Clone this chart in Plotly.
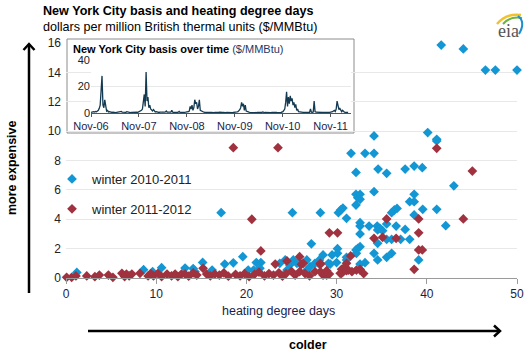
import plotly.graph_objects as go
import pandas as pd

# ---------------- data ----------------
blue_hdd = [1.2, 8.6, 9.6, 10.6, 13.2, 14.1, 14.3, 15.15, 16.2, 17.2, 17.6, 18.55, 19.6, 20.2, 20.8,
            21.1, 21.6, 21.5, 23.7, 24.3, 24.5, 24.8, 25.1, 25.2, 25.6, 25.9, 26.7, 26.7, 27.05, 27.2,
            27.6, 28.0, 28.1, 28.2, 28.5, 29.1, 29.3, 29.5, 30.0, 30.1, 30.1, 30.2, 30.45, 30.7, 30.75,
            31.1, 31.1, 31.1, 31.6, 32.15, 32.15, 32.35, 32.6, 32.6, 32.15, 32.6, 32.6, 32.6, 32.6, 32.35,
            32.15, 32.2, 32.6, 33.15, 33.6, 33.15, 34.15, 34.15, 34.15, 34.15, 34.5, 34.55, 34.8, 35.1,
            34.55, 34.55, 34.6, 35.55, 35.55, 35.55, 35.55, 36.1, 36.1, 36.1, 36.4, 36.7, 36.6, 37.1,
            37.6, 37.6, 38.1, 38.6, 38.6, 38.6, 38.6, 38.1, 39.1, 39.5, 39.55, 40.1, 41.1, 41.1, 41.1,
            41.6, 42.1, 43.0, 44.05, 46.5, 47.6, 50.0]
blue_basis = [0.38, 0.57, 0.43, 0.7, 0.68, 0.64, 0.43, 1.06, 0.54, 4.45, 0.95, 1.03, 1.45, 0.54, 0.54,
              1.05, 1.05, 0.66, 1.0, 1.23, 0.54, 0.88, 4.45, 1.23, 1.0, 1.0, 1.23, 0.54, 0.77, 2.33,
              1.0, 1.0, 1.23, 4.45, 1.57, 1.0, 0.95, 1.57, 1.05, 2.0, 1.68, 4.45, 4.63, 4.76, 0.43,
              4.06, 1.23, 1.41, 8.49, 7.19, 5.70, 5.47, 5.70, 5.36, 4.97, 3.77, 3.54, 3.0, 2.13, 2.02,
              1.91, 1.68, 0.95, 8.49, 3.54, 1.04, 8.49, 9.67, 5.88, 1.68, 3.54, 3.27, 3.38, 3.22,
              2.36, 1.23, 7.42, 7.13, 3.68, 2.63, 1.41, 2.63, 1.68, 4.45, 4.63, 4.74, 3.54, 2.63,
              7.42, 3.31, 5.2, 5.2, 5.7, 7.62, 4.29, 2.63, 1.23, 7.51, 4.68, 9.9, 9.44, 9.33, 4.68,
              15.86, 3.56, 6.28, 15.6, 14.16, 14.16, 14.16]

red_hdd = [0.07, 0.63, 1.1, 2.3, 3.2, 3.7, 4.7, 5.2, 6.2, 6.5, 6.7, 7.0, 7.3, 8.2, 9.1, 9.4, 9.7,
           10.2, 10.6, 11.2, 11.7, 12.1, 12.4, 12.8, 13.2, 13.6, 14.1, 14.5, 15.2, 15.6, 16.0, 16.5,
           17.0, 17.5, 18.0, 18.55, 18.8, 19.3, 19.8, 20.3, 20.6, 20.9, 21.4, 21.6, 22.0, 22.5, 23.0,
           23.2, 23.5, 23.6, 24.0, 24.5, 24.4, 25.0, 25.4, 25.9, 25.9, 26.1, 26.3, 26.5, 27.0, 27.6,
           28.2, 28.2, 28.2, 28.5, 28.7, 28.9, 28.9, 29.2, 29.2, 30.1, 30.4, 30.55, 30.55, 30.75,
           31.1, 31.1, 31.3, 31.56, 31.7, 32.2, 32.6, 32.6, 33.0, 34.15, 35.1, 35.55, 36.6, 38.6,
           39.1, 39.1, 39.1, 39.5, 41.1, 44.05, 45.05]
red_basis = [0.05, 0.05, 0.14, 0.14, 0.09, 0.2, 0.2, 0.05, 0.32, 0.1, 0.27, 0.15, 0.27, 0.32, 0.14, 0.3, 0.14,
             0.32, 0.1, 0.27, 0.15, 0.27, 0.1, 0.27, 0.27, 0.12, 0.35, 0.2, 0.66, 0.27, 0.15, 0.27,
             0.2, 0.35, 0.12, 8.87, 0.25, 0.15, 0.3, 0.1, 4.0, 0.25, 0.4, 1.84, 0.15, 0.3, 0.2,
             0.95, 8.87, 0.35, 0.12, 1.16, 0.3, 0.45, 0.2, 0.43, 1.45, 0.93, 1.0, 0.3, 0.15, 0.43,
             0.43, 0.93, 1.0, 0.2, 0.32, 0.5, 0.2, 3.08, 0.27, 3.08, 0.32, 0.59, 0.32, 0.66,
             0.5, 1.0, 0.54, 1.5, 0.43, 0.54, 0.54, 0.59, 0.3, 2.70, 2.77, 4.02, 2.70, 0.59,
             4.02, 3.08, 1.91, 1.91, 8.83, 4.02, 7.28]

# inset: weekly NYC basis ($/MMBtu) starting Nov-06
inset_start = "2006-11-01"
basis_0607 = [0.5, 0.8, 0.6, 1.0, 0.8, 1.2, 0.9, 1.5, 2.0, 3.5, 6.0, 17.0, 28.0, 6.0, 4.0, 10.0,
              3.0, 1.5, 2.0, 0.8, 1.0,
              0.6, 0.5, 0.4, 0.7, 0.5, 0.4, 0.3, 0.5, 0.6, 0.4, 0.5, 0.8, 1.2, 0.6, 0.5, 0.4, 0.6,
              0.5, 1.0, 0.7, 0.5, 0.4, 0.3, 0.4, 0.5, 0.6, 0.4, 0.5, 0.7, 0.6, 0.5]
basis_0708 = [0.8, 1.0, 1.5, 2.0, 3.0, 8.0, 14.0, 5.0, 31.0, 9.0, 12.0, 4.0, 6.0, 3.0, 2.0, 1.5,
              2.5, 1.2, 0.8, 1.0, 0.7,
              0.5, 0.4, 0.6, 0.5, 0.4, 0.3, 0.5, 0.6, 0.8, 1.5, 0.6, 0.5, 0.4, 0.5, 0.7, 2.0, 0.6,
              0.5, 0.4, 0.3, 0.5, 0.4, 0.6, 1.2, 0.5, 0.4, 0.5, 0.6, 0.4, 0.5, 0.6]
basis_0809 = [0.6, 0.8, 1.0, 1.5, 5.0, 3.0, 6.0, 2.0, 4.0, 10.0, 7.0, 8.0, 3.0, 5.0, 10.0, 2.0,
              1.5, 1.0, 0.8, 0.6, 0.5,
              0.4, 0.3, 0.5, 0.4, 0.3, 0.4, 0.5, 0.3, 0.4, 0.3, 0.5, 0.4, 0.3, 0.4, 0.5, 0.6, 0.4,
              0.3, 0.4, 0.5, 0.3, 0.4, 0.3, 0.5, 0.4, 0.3, 0.4, 0.5, 0.4, 0.3, 0.4]
basis_0910 = [0.4, 0.5, 0.6, 0.8, 1.0, 1.5, 2.5, 4.0, 8.0, 5.0, 7.0, 2.0, 6.0, 1.5, 1.0, 0.8,
              0.6, 0.5, 0.4, 0.5, 0.4,
              0.3, 0.4, 0.3, 0.3, 0.4, 0.3, 0.5, 0.4, 0.3, 0.4, 0.8, 0.4, 0.3, 0.4, 0.3, 0.5, 0.4,
              0.3, 0.4, 0.3, 0.4, 0.5, 0.3, 0.4, 0.3, 0.4, 0.3, 0.5, 0.4, 0.3, 0.4]
basis_1011 = [0.6, 1.0, 2.0, 3.0, 8.0, 16.0, 5.0, 12.0, 7.0, 13.0, 9.0, 11.0, 6.0, 8.0, 4.0, 6.5,
              2.0, 3.0, 1.0, 0.8, 0.6,
              0.5, 0.4, 0.5, 0.4, 0.4, 0.3, 0.5, 0.4, 0.4, 0.5, 3.0, 0.6, 0.5, 0.8, 9.0, 1.0, 0.6,
              0.5, 0.4, 0.4, 0.5, 0.4, 0.3, 0.4, 0.5, 0.4, 0.3, 0.4, 0.5, 0.4, 0.4]
basis_1112 = [0.5, 0.6, 0.8, 1.0, 1.5, 2.0, 1.2, 3.0, 9.0, 4.0, 2.5, 3.5, 1.5, 1.0, 2.0, 0.8,
              0.6, 0.5, 0.4, 0.5, 0.4]
inset_basis = basis_0607 + basis_0708 + basis_0809 + basis_0910 + basis_1011 + basis_1112
inset_dates = pd.date_range(inset_start, periods=len(inset_basis), freq="7D")

inset_tickvals = ["2006-11-01", "2007-11-01", "2008-11-01", "2009-11-01", "2010-11-01", "2011-11-01"]
inset_ticktext = ["Nov-06", "Nov-07", "Nov-08", "Nov-09", "Nov-10", "Nov-11"]

# ---------------- layout helpers ----------------
W, H = 530, 353
L, R, T, B = 66, 13, 43, 75
PW, PH = W - L - R, H - T - B


def fx(p):
    return (p - L) / PW


def fy(p):
    return (H - B - p) / PH


BLUE = "#1297d4"
RED = "#a0323f"
NAVY = "#1c1c4a"
LINE = "#143a52"

fig = go.Figure()
fig.add_trace(go.Scatter(x=blue_hdd, y=blue_basis, mode="markers", name="winter 2010-2011",
                         legendgroup="a",
                         marker=dict(symbol="diamond", size=7.5, color=BLUE), cliponaxis=False))
fig.add_trace(go.Scatter(x=red_hdd, y=red_basis, mode="markers", name="winter 2011-2012",
                         legendgroup="b",
                         marker=dict(symbol="diamond", size=7.5, color=RED), cliponaxis=False))
fig.add_trace(go.Scatter(x=inset_dates, y=inset_basis, mode="lines", xaxis="x2", yaxis="y2",
                         line=dict(color=LINE, width=1.3), showlegend=False))

# inset box (drawn in the inset subplot, behind its grid)
ix0, ix1, iy0, iy1 = 91, 351, 113, 60
iw, ih = ix1 - ix0, iy0 - iy1
shapes = [
    dict(type="rect", xref="x2 domain", yref="y2 domain", layer="below",
         x0=(67 - ix0) / iw, x1=(354 - ix0) / iw, y0=(iy0 - 133) / ih, y1=(iy0 - 39) / ih,
         fillcolor="white", line=dict(color="#8c8c8c", width=1)),
    # vertical arrow
    dict(type="line", xref="paper", yref="paper", x0=fx(29), x1=fx(29), y0=fy(293), y1=fy(44),
         line=dict(color="black", width=2.5)),
    dict(type="path", xref="paper", yref="paper",
         path=f"M{fx(23.5)},{fy(50)} L{fx(29)},{fy(44)} L{fx(34.5)},{fy(50)}",
         line=dict(color="black", width=2.5)),
    # horizontal arrow
    dict(type="line", xref="paper", yref="paper", x0=fx(88), x1=fx(500), y0=fy(331), y1=fy(331),
         line=dict(color="black", width=2.5)),
    dict(type="path", xref="paper", yref="paper",
         path=f"M{fx(494)},{fy(325.5)} L{fx(500)},{fy(331)} L{fx(494)},{fy(336.5)}",
         line=dict(color="black", width=2.5)),
    # eia logo swoosh
    dict(type="path", xref="paper", yref="paper",
         path=f"M{fx(497)},{fy(24)} Q{fx(506)},{fy(13)} {fx(521)},{fy(15)}",
         line=dict(color="#f2c12e", width=2.5)),
    dict(type="path", xref="paper", yref="paper",
         path=f"M{fx(503)},{fy(24)} Q{fx(510)},{fy(16)} {fx(522)},{fy(18)}",
         line=dict(color="#6db33f", width=2)),
    dict(type="path", xref="paper", yref="paper",
         path=f"M{fx(518)},{fy(16)} Q{fx(526)},{fy(22)} {fx(519)},{fy(34)}",
         line=dict(color="#1a8fcf", width=2)),
]

annotations = [
    dict(text="<b>New York City basis and heating degree days</b><br>"
              "dollars per million British thermal units ($/MMBtu)",
         x=fx(41), y=fy(2), yanchor="top", align="left",
         font=dict(size=12.6, color="black")),
    dict(text="<b>New York City basis over time</b> <span style='color:#1f3864'>($/MMBtu)</span>",
         x=fx(71), y=fy(49), font=dict(size=11, color="black")),
    dict(text="heating degree days", x=fx(278), y=fy(311), xanchor="center",
         font=dict(size=12.5, color=NAVY)),
    dict(text="<b>colder</b>", x=fx(308), y=fy(345), xanchor="center",
         font=dict(size=12.5, color="black")),
    dict(text="<b>more expensive</b>", x=fx(12), y=fy(168), xanchor="center", textangle=-90,
         font=dict(size=12.5, color="black")),
    dict(text="eia", x=fx(508), y=fy(31), xanchor="center",
         font=dict(size=18, color="#555555", family="Liberation Serif")),
]
for a in annotations:
    a.setdefault("xref", "paper")
    a.setdefault("yref", "paper")
    a.setdefault("xanchor", "left")
    a.setdefault("yanchor", "middle")
    a["showarrow"] = False

fig.update_layout(
    width=W, height=H,
    margin=dict(l=L, r=R, t=T, b=B, autoexpand=False),
    paper_bgcolor="white", plot_bgcolor="white",
    font=dict(family="Liberation Sans, Arial", size=12, color="#222"),
    showlegend=True,
    legend=dict(x=fx(52), y=fy(164), xanchor="left", yanchor="top",
                font=dict(size=13, color="#222"), bgcolor="rgba(0,0,0,0)",
                tracegroupgap=10, itemwidth=30),
    xaxis=dict(range=[0, 50], tickvals=[0, 10, 20, 30, 40, 50], showgrid=False, zeroline=False,
               showline=True, linecolor="#9a9a9a", linewidth=1, ticks="outside", ticklen=5,
               tickcolor="#9a9a9a", tickfont=dict(size=12, color=NAVY)),
    yaxis=dict(range=[0, 16], dtick=2, showgrid=True, gridcolor="#e8e8e8", gridwidth=1,
               zeroline=False, showline=False, ticks="", ticklabelstandoff=4,
               tickfont=dict(size=12, color="#222")),
    xaxis2=dict(domain=[fx(ix0), fx(ix1)], anchor="y2",
                range=["2006-11-01", "2012-04-05"], tickvals=inset_tickvals,
                ticktext=inset_ticktext, showgrid=False, zeroline=False, showline=True,
                linecolor="#555", linewidth=1, ticks="outside", ticklen=3, tickcolor="#555",
                tickfont=dict(size=11, color=NAVY)),
    yaxis2=dict(domain=[fy(iy0), fy(iy1)], anchor="x2", range=[0, 40], tickvals=[0, 20, 40],
                showgrid=True, gridcolor="#e8e8e8", zeroline=False, showline=False,
                tickfont=dict(size=11, color="#222")),
    shapes=shapes,
    annotations=annotations,
)

fig.write_html("out.html")
